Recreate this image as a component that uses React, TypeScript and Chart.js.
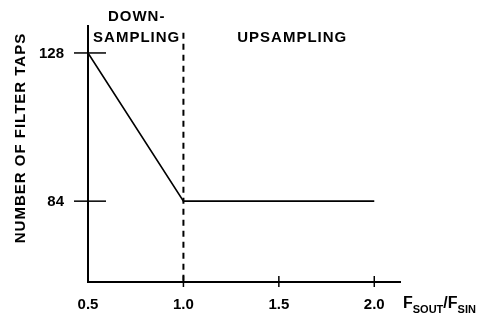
import React, { useEffect, useRef } from "react";
import { Chart, registerables } from "chart.js";

Chart.register(...registerables);

const ratios = [0.5, 1.0, 2.0];
const taps = [128, 84, 84];
const xTicks = [0.5, 1.0, 1.5, 2.0];
const xTickLabels = ["0.5", "1.0", "1.5", "2.0"];
const yTicks = [128, 84];
const yTickLabels = ["128", "84"];
const boundary = 1.0;
const regionLabels = [
  { lines: ["DOWN-", "SAMPLING"], x: 0.755 },
  { lines: ["UPSAMPLING"], x: 1.57 },
];

const FONT = "bold 15px 'Liberation Sans', Arial, sans-serif";

const drawPlugin = {
  id: "customAxes",
  afterDatasetsDraw(chart: any) {
    const { ctx, chartArea, scales } = chart;
    const xs = scales.x;
    const ys = scales.y;
    const left = chartArea.left;
    const bottom = chartArea.bottom;
    const right = chartArea.right;
    const top = chartArea.top;
    ctx.save();
    ctx.strokeStyle = "#000";
    ctx.fillStyle = "#000";
    // axes
    ctx.lineWidth = 2;
    ctx.setLineDash([]);
    ctx.beginPath();
    ctx.moveTo(left, top);
    ctx.lineTo(left, bottom);
    ctx.lineTo(right, bottom);
    ctx.stroke();
    // y ticks
    ctx.lineWidth = 1.5;
    ctx.font = FONT;
    ctx.textAlign = "right";
    ctx.textBaseline = "middle";
    yTicks.forEach((v, i) => {
      const py = ys.getPixelForValue(v);
      ctx.beginPath();
      ctx.moveTo(left - 14, py);
      ctx.lineTo(left + 18, py);
      ctx.stroke();
      ctx.fillText(yTickLabels[i], left - 24, py + 1);
    });
    // x ticks
    ctx.textAlign = "center";
    xTicks.forEach((v, i) => {
      const px = xs.getPixelForValue(v);
      if (i > 0) {
        ctx.beginPath();
        ctx.moveTo(px, bottom - 6);
        ctx.lineTo(px, bottom + 5);
        ctx.stroke();
      }
      ctx.fillText(xTickLabels[i], px, bottom + 23);
    });
    // dashed boundary
    const bx = xs.getPixelForValue(boundary);
    ctx.lineWidth = 2;
    ctx.setLineDash([6, 5]);
    ctx.beginPath();
    ctx.moveTo(bx, ys.getPixelForValue(134));
    ctx.lineTo(bx, bottom);
    ctx.stroke();
    ctx.setLineDash([]);
    // region labels
    ctx.letterSpacing = "1px";
    ctx.textAlign = "center";
    ctx.textBaseline = "middle";
    regionLabels.forEach((r) => {
      const px = xs.getPixelForValue(r.x);
      r.lines.forEach((t, j) => {
        const n = r.lines.length;
        const py = 38 - (n - 1 - j) * 21;
        ctx.fillText(t, px, py);
      });
    });
    // y title
    ctx.save();
    ctx.font = FONT;
    ctx.translate(21, 138);
    ctx.rotate(-Math.PI / 2);
    ctx.textAlign = "center";
    ctx.fillText("NUMBER OF FILTER TAPS", 0, 0);
    ctx.restore();
    // x title F_SOUT/F_SIN
    ctx.letterSpacing = "0px";
    const parts: [string, boolean][] = [
      ["F", false],
      ["SOUT", true],
      ["/F", false],
      ["SIN", true],
    ];
    let cx = right + 2;
    const by = bottom + 22;
    ctx.textAlign = "left";
    parts.forEach(([t, sub]) => {
      ctx.font = sub
        ? "bold 11px 'Liberation Sans', Arial, sans-serif"
        : "bold 16px 'Liberation Sans', Arial, sans-serif";
      ctx.fillText(t, cx, sub ? by + 6 : by);
      cx += ctx.measureText(t).width;
    });
    ctx.restore();
  },
};

export default function App() {
  const ref = useRef<HTMLCanvasElement | null>(null);
  useEffect(() => {
    document.body.style.margin = "0";
    const canvas = ref.current;
    if (!canvas) return;
    const chart = new Chart(canvas, {
      type: "line",
      data: {
        datasets: [
          {
            data: ratios.map((x, i) => ({ x, y: taps[i] })),
            borderColor: "#000",
            borderWidth: 1.6,
            pointRadius: 0,
            fill: false,
            tension: 0,
          },
        ],
      },
      options: {
        animation: false,
        responsive: false,
        maintainAspectRatio: false,
        devicePixelRatio: 1,
        layout: { padding: { left: 88, right: 84, top: 25, bottom: 37 } },
        plugins: { legend: { display: false }, tooltip: { enabled: false } },
        scales: {
          x: { type: "linear", display: false, min: 0.5, max: 2.14 },
          y: { type: "linear", display: false, min: 60, max: 136.3 },
        },
      },
      plugins: [drawPlugin],
    });
    return () => chart.destroy();
  }, []);
  return (
    <div style={{ width: 485, height: 319, background: "#fff" }}>
      <canvas ref={ref} width={485} height={319} />
    </div>
  );
}
